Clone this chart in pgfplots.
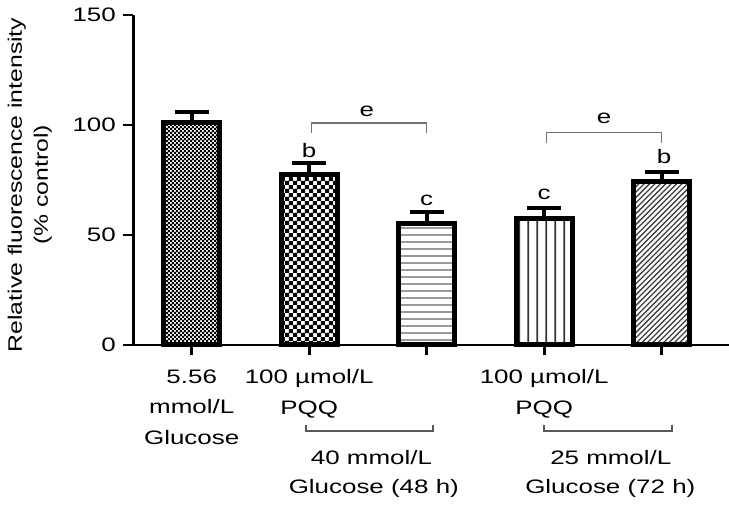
\documentclass[border=0pt]{standalone}
\usepackage{fontspec}
\setmainfont{Liberation Sans}[FakeStretch=1.33]
\newfontfamily\ylabfamily{Liberation Sans}[FakeStretch=1.27]
\usepackage{pgfplots}
\pgfplotsset{compat=1.18}
\usetikzlibrary{patterns}
\newcommand\myfont{\fontsize{9.75}{15.25}\selectfont}
\pgfdeclarepatternformonly{finecheck}{\pgfpointorigin}{\pgfqpoint{2.2pt}{2.2pt}}{\pgfqpoint{2.2pt}{2.2pt}}{%
  \pgfpathrectangle{\pgfpointorigin}{\pgfqpoint{1.15pt}{1.15pt}}%
  \pgfpathrectangle{\pgfqpoint{1.1pt}{1.1pt}}{\pgfqpoint{1.15pt}{1.15pt}}%
  \pgfusepath{fill}}
\pgfdeclarepatternformonly{bigcheck}{\pgfpointorigin}{\pgfqpoint{4.2pt}{4.2pt}}{\pgfqpoint{4.2pt}{4.2pt}}{%
  \pgfpathrectangle{\pgfpointorigin}{\pgfqpoint{2.15pt}{2.15pt}}%
  \pgfpathrectangle{\pgfqpoint{2.1pt}{2.1pt}}{\pgfqpoint{2.15pt}{2.15pt}}%
  \pgfusepath{fill}}
\pgfdeclarepatternformonly{hlines}{\pgfpointorigin}{\pgfqpoint{100pt}{3.5pt}}{\pgfqpoint{100pt}{3.5pt}}{%
  \pgfsetlinewidth{0.7pt}%
  \pgfpathmoveto{\pgfqpoint{-0.1pt}{1.75pt}}\pgfpathlineto{\pgfqpoint{100.1pt}{1.75pt}}%
  \pgfusepath{stroke}}
\pgfdeclarepatternformonly{vlines}{\pgfpointorigin}{\pgfqpoint{4.6pt}{100pt}}{\pgfqpoint{4.6pt}{100pt}}{%
  \pgfsetlinewidth{1pt}%
  \pgfpathmoveto{\pgfqpoint{2.3pt}{-0.1pt}}\pgfpathlineto{\pgfqpoint{2.3pt}{100.1pt}}%
  \pgfusepath{stroke}}
\pgfdeclarepatternformonly{nelines}{\pgfqpoint{-1pt}{-1pt}}{\pgfqpoint{3.7pt}{3.7pt}}{\pgfqpoint{2.7pt}{2.7pt}}{%
  \pgfsetlinewidth{0.65pt}%
  \pgfpathmoveto{\pgfqpoint{0pt}{0pt}}\pgfpathlineto{\pgfqpoint{2.75pt}{2.75pt}}%
  \pgfusepath{stroke}}
\pgfplotsset{mybar/.style={ybar, bar shift=0pt, bar width=28pt, draw=black, line width=2.5pt,
  error bars/y dir=plus, error bars/y explicit,
  error bars/error bar style={line width=2pt, black},
  error bars/error mark options={black, line width=2pt, mark size=8.5pt, rotate=90}}}
\begin{document}
\begin{tikzpicture}[every node/.style={font=\myfont}]
\path[use as bounding box] (0,0) rectangle (364.5pt,252pt);
\begin{axis}[
  at={(66.65pt,79.5pt)}, anchor=south west,
  scale only axis, width=297.85pt, height=165pt,
  xmin=-0.497, xmax=4.573, ymin=0, ymax=150,
  axis x line=bottom, axis y line=left,
  axis line style={-, line width=1.4pt, black},
  xtick={0,1,2,3,4},
  xticklabels={{5.56\\mmol/L\\Glucose},{100 µmol/L\\PQQ},{},{100 µmol/L\\PQQ},{}},
  ytick={0,50,100,150},
  tick align=outside,
  major tick length=5.2pt,
  tick style={line width=1.4pt, black},
  xticklabel style={align=center, anchor=north, font=\myfont, yshift=-3.5pt},
  yticklabel style={font=\myfont},
  /pgf/number format/assume math mode=true,
  ylabel={Relative fluorescence intensity\\(\% control)},
  every axis y label/.style={at={(axis description cs:-0.1737,0.485)}, rotate=90, anchor=center, align=center, font=\ylabfamily\fontsize{9.75}{13}\selectfont},
  clip=false,
]
\addplot[mybar, pattern=finecheck, pattern color=black] coordinates {(0,101) +- (0,5)};
\addplot[mybar, pattern=bigcheck, pattern color=black] coordinates {(1,77.7) +- (0,4.9)};
\addplot[mybar, pattern=hlines, pattern color=black!60] coordinates {(2,55) +- (0,5.5)};
\addplot[mybar, pattern=vlines, pattern color=black!80] coordinates {(3,57.6) +- (0,4.5)};
\addplot[mybar, pattern=nelines, pattern color=black!75] coordinates {(4,74.5) +- (0,4.3)};
% significance brackets
\addplot[draw=black!55, line width=0.75pt, mark=none] coordinates {(1.02,96.5) (1.02,101) (2.0,101) (2.0,96.5)};
\addplot[draw=black!55, line width=0.75pt, mark=none] coordinates {(3.02,91.7) (3.02,96.7) (4.0,96.7) (4.0,91.7)};
% group brackets below axis
\addplot[draw=black!65, line width=1pt, mark=none] coordinates {(0.973,-36.4) (0.973,-38.9) (2.05,-38.9) (2.05,-36.4)};
\addplot[draw=black!65, line width=1pt, mark=none] coordinates {(3.0,-36.4) (3.0,-38.9) (4.085,-38.9) (4.085,-36.4)};
% letters
\node at (axis cs:1,88.6) {b};
\node at (axis cs:2,65.9) {c};
\node at (axis cs:3,68.5) {c};
\node at (axis cs:4.02,85.6) {b};
\node at (axis cs:1.49,106) {e};
\node at (axis cs:3.51,103) {e};
% group labels
\node[anchor=base] at (axis cs:1.53,-54.5) {40 mmol/L};
\node[anchor=base] at (axis cs:1.55,-67.4) {Glucose (48 h)};
\node[anchor=base] at (axis cs:3.567,-54.5) {25 mmol/L};
\node[anchor=base] at (axis cs:3.563,-67.4) {Glucose (72 h)};
\end{axis}
\end{tikzpicture}
\end{document}
